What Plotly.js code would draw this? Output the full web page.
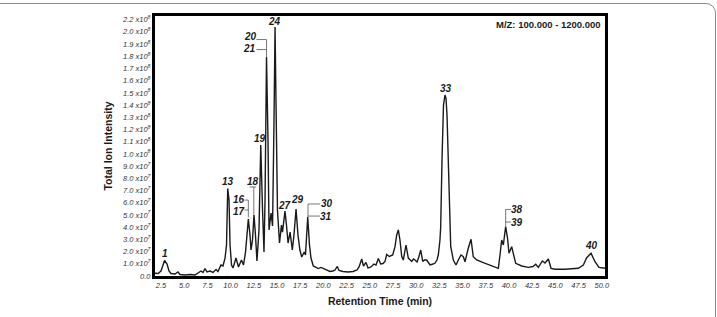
<!DOCTYPE html>
<html>
<head>
<meta charset="utf-8">
<script src="https://cdn.plot.ly/plotly-3.0.1.min.js"></script>
<style>
html,body{margin:0;padding:0;background:#fff;overflow:hidden;width:717px;height:317px;}
#frame{position:absolute;left:-20px;top:3px;width:736px;height:400px;box-sizing:border-box;border:1px solid #8a8a8a;border-top-right-radius:10px;}
#chart{position:absolute;left:0;top:0;width:717px;height:317px;}
</style>
</head>
<body>
<div id="frame"></div>
<div id="chart"></div>
<script>
// Retention time (min)
const retentionTime = [1.85,2.18,2.50,2.72,2.88,3.15,3.36,3.58,4.01,4.33,
4.55,5.09,5.63,6.16,6.49,6.81,7.03,7.24,7.46,7.78,
8.10,8.43,8.64,8.96,9.18,9.40,9.56,9.69,9.83,9.94,
10.10,10.26,10.58,10.85,11.17,11.39,11.61,11.91,12.09,12.20,
12.36,12.52,12.68,12.84,13.06,13.25,13.44,13.60,13.71,13.87,
14.03,14.14,14.36,14.52,14.68,14.79,14.89,15.05,15.27,15.48,
15.59,15.86,16.02,16.19,16.41,16.65,16.83,17.05,17.26,17.47,
17.66,17.94,18.07,18.31,18.50,18.66,18.91,19.20,19.45,19.74,
20.06,20.39,20.71,21.03,21.25,21.50,21.68,22.11,22.65,23.19,
23.62,23.84,24.13,24.32,24.59,24.81,25.02,25.24,25.45,25.67,
25.92,26.17,26.42,26.64,26.82,27.10,27.28,27.47,27.72,27.90,
28.07,28.25,28.44,28.61,28.90,29.15,29.52,29.71,29.87,30.09,
30.25,30.49,30.70,30.89,31.13,31.33,31.49,31.81,32.03,32.24,
32.38,32.56,32.64,32.78,32.86,32.94,33.10,33.21,33.32,33.46,
33.59,33.72,34.00,34.29,34.54,34.83,35.08,35.26,35.61,35.91,
36.15,36.52,37.23,37.95,38.85,39.03,39.21,39.39,39.64,39.84,
40.00,40.29,40.49,40.72,41.37,42.08,42.58,42.88,43.16,43.59,
43.88,44.24,44.53,44.96,46.03,47.47,48.01,48.37,48.84,49.27,
49.70,50.34];

// Total ion intensity in units of 1e7
const intensityE7 = [0.22,0.20,0.41,0.90,1.27,0.98,0.41,0.20,0.16,0.33,
0.12,0.08,0.12,0.08,0.25,0.41,0.29,0.61,0.33,0.41,
0.29,0.53,0.37,0.90,0.82,1.47,2.54,7.17,6.22,2.54,
0.90,0.66,1.47,0.74,1.31,0.90,1.97,4.67,3.36,2.13,
2.95,5.00,3.36,1.23,3.77,10.73,5.41,1.97,6.22,17.94,
11.14,3.77,5.16,4.10,12.78,20.39,14.41,5.41,2.70,4.18,
3.60,5.32,4.18,2.70,3.60,2.13,3.36,5.49,3.36,2.13,
1.56,1.97,1.72,4.83,2.54,1.47,0.82,0.74,0.61,0.70,
0.57,0.49,0.37,0.41,0.49,0.78,0.45,0.37,0.33,0.37,
0.49,0.74,1.39,0.82,1.11,0.66,0.70,0.82,0.98,0.90,
1.43,0.98,1.02,1.19,1.76,1.60,1.68,1.72,2.42,3.36,
3.77,2.95,1.60,1.31,2.54,1.47,1.19,1.39,1.31,1.15,
1.47,2.13,1.19,1.31,1.31,1.06,0.90,0.98,1.06,1.31,
1.72,2.95,4.04,9.50,12.23,14.00,14.82,14.58,13.19,9.50,
5.41,2.42,1.31,0.90,1.31,1.72,1.58,1.17,2.27,3.01,
1.58,1.31,1.09,0.90,0.63,1.72,2.95,2.54,4.04,3.11,
1.86,2.40,1.72,1.04,0.82,0.71,0.78,0.96,0.71,1.23,
1.06,1.39,0.63,0.55,0.55,0.63,0.90,1.50,1.86,1.17,
0.71,0.63];

// Peak labels and their anchor positions (time, intensity in 1e7)
const peakLabels     = ["1","13","16","17","18","19","20","21","24","27","29","30","31","33","38","39","40"];
const peakLabelTime  = [2.93,9.72,10.94,10.94,12.38,13.17,12.09,12.04,14.78,15.78,17.26,20.39,20.33,33.21,40.86,40.86,48.84];
const peakLabelIntE7 = [1.88,7.78,6.30,5.30,7.78,11.30,19.60,18.62,20.84,5.81,6.27,5.98,4.91,15.40,5.45,4.42,2.46];

// Axis ticks
const xTickVals = [2.5,5,7.5,10,12.5,15,17.5,20,22.5,25,27.5,30,32.5,35,37.5,40,42.5,45,47.5,50];
const xTickText = ["2.5","5.0","7.5","10.0","12.5","15.0","17.5","20.0","22.5","25.0","27.5","30.0","32.5","35.0","37.5","40.0","42.5","45.0","47.5","50.0"];
const yTickValsE7 = [0,1,2,3,4,5,6,7,8,9,10,11,12,13,14,15,16,17,18,19,20,21];
const yTickText = ["0.0","1.0 x10<sup>7</sup>","2.0 x10<sup>7</sup>","3.0 x10<sup>7</sup>","4.0 x10<sup>7</sup>","5.0 x10<sup>7</sup>","6.0 x10<sup>7</sup>","7.0 x10<sup>7</sup>","8.0 x10<sup>7</sup>","9.0 x10<sup>7</sup>","1.0 x10<sup>8</sup>","1.1 x10<sup>8</sup>","1.2 x10<sup>8</sup>","1.3 x10<sup>8</sup>","1.4 x10<sup>8</sup>","1.5 x10<sup>8</sup>","1.6 x10<sup>8</sup>","1.7 x10<sup>8</sup>","1.8 x10<sup>8</sup>","1.9 x10<sup>8</sup>","2.0 x10<sup>8</sup>","2.2 x10<sup>8</sup>"];

const E7 = 1e7;
const FONT = "Liberation Sans, Arial, Helvetica, sans-serif";

const trace = {
  x: retentionTime,
  y: intensityE7.map(v => v * E7),
  type: "scatter",
  mode: "lines",
  line: {color: "#1a1a1a", width: 1.4, shape: "linear"},
  hoverinfo: "skip"
};

const annotations = peakLabels.map((t, i) => ({
  x: peakLabelTime[i], y: peakLabelIntE7[i] * E7, xref: "x", yref: "y",
  text: t, showarrow: false, xanchor: "center", yanchor: "middle",
  font: {family: FONT, size: 10, color: "#1a1a1a", style: "italic", weight: "bold"}
}));
annotations.push({
  x: 0.875, y: 0.969, xref: "paper", yref: "paper", text: "M/Z: 100.000 - 1200.000",
  showarrow: false, xanchor: "center", yanchor: "middle",
  font: {family: FONT, size: 9.5, color: "#1a1a1a", weight: "bold"}
});

function seg(x0, y0, x1, y1) {
  return {type: "line", xref: "x", yref: "y", x0: x0, y0: y0 * E7, x1: x1, y1: y1 * E7,
          line: {color: "#555", width: 0.8}};
}
const shapes = [
  // 16/17 bracket
  seg(11.50, 6.22, 11.91, 6.22), seg(11.50, 5.41, 11.91, 5.41), seg(11.91, 6.22, 11.91, 4.8),
  // 18
  seg(12.04, 7.29, 12.74, 7.29), seg(12.50, 7.29, 12.50, 5.0),
  // 20/21 bracket
  seg(12.79, 19.37, 13.87, 19.37), seg(12.79, 18.55, 13.87, 18.55), seg(13.87, 19.37, 13.87, 17.9),
  // 30/31 bracket
  seg(18.34, 5.90, 19.63, 5.90), seg(18.34, 4.91, 19.63, 4.91), seg(18.34, 5.90, 18.34, 4.83),
  // 38/39 bracket
  seg(39.64, 5.45, 40.21, 5.45), seg(39.64, 4.42, 40.21, 4.42), seg(39.64, 5.45, 39.64, 4.04)
];

const layout = {
  width: 717, height: 317,
  margin: {l: 155, r: 112, t: 16, b: 41, pad: 0},
  paper_bgcolor: "rgba(0,0,0,0)",
  plot_bgcolor: "#ffffff",
  showlegend: false,
  hovermode: false,
  font: {family: FONT, color: "#222"},
  xaxis: {
    range: [1.853, 50.345],
    tickmode: "array", tickvals: xTickVals, ticktext: xTickText,
    ticks: "", showgrid: false, zeroline: false,
    showline: true, linecolor: "#000", linewidth: 3, mirror: true,
    tickfont: {family: FONT, size: 7.5, color: "#333", style: "italic"},
    title: {text: "Retention Time (min)", standoff: 9,
            font: {family: FONT, size: 10.5, color: "#1a1a1a", weight: "bold"}}
  },
  yaxis: {
    range: [0, 21.3 * E7],
    tickmode: "array", tickvals: yTickValsE7.map(v => v * E7), ticktext: yTickText,
    ticks: "", showgrid: false, zeroline: false,
    showline: true, linecolor: "#000", linewidth: 3, mirror: true,
    tickfont: {family: FONT, size: 7.5, color: "#333", style: "italic"},
    title: {text: "Total Ion Intensity", standoff: 8,
            font: {family: FONT, size: 10.5, color: "#1a1a1a", weight: "bold"}}
  },
  annotations: annotations,
  shapes: shapes
};

Plotly.newPlot("chart", [trace], layout, {staticPlot: true, displayModeBar: false});
</script>
</body>
</html>
